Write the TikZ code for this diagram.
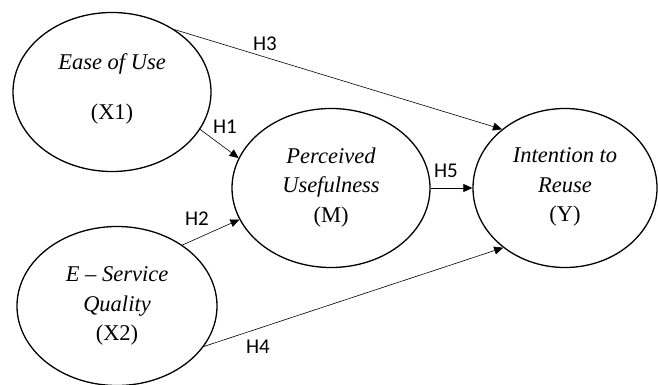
\documentclass[tikz,border=0pt]{standalone}
\usepackage{fontspec}
\setmainfont{Liberation Serif}
\newfontfamily\hlabelfont{Carlito}
\usetikzlibrary{arrows.meta, shapes.geometric, positioning}

\begin{document}
\begin{tikzpicture}[
        x=1pt, y=-1pt, >={Triangle[length=9pt,width=8pt]},
        construct/.style={ellipse, draw, line width=1.3pt, inner sep=0pt,
          minimum width=198pt, minimum height=159pt, align=center,
          font=\fontsize{22.5}{29.5}\selectfont},
        path/.style={->, line width=0.6pt},
        hyp/.style={font=\hlabelfont\fontsize{21}{21}\selectfont},
        ]
        \useasboundingbox (0,0) rectangle (658,385);
        \node[construct] (x1) at (112,92)  {\textit{Ease of Use}\\[20pt](X1)\\[-19pt]\mbox{}};
        \node[construct] (m)  at (331,188) {\textit{Perceived}\\\textit{Usefulness}\\(M)\\[-23pt]\mbox{}};
        \node[construct, minimum width=184pt] (y) at (565,188) {\textit{Intention to}\\\textit{Reuse}\\(Y)\\[-23pt]\mbox{}};
        \node[construct, minimum width=200pt] (x2) at (117,306) {\textit{E -- Service}\\\textit{Quality}\\(X2)};

        \draw[path] (x1.45)  -- (y.137);
        \draw[path] (x1.-23) -- (m.162);
        \draw[path] (x2.43)  -- (m.199);
        \draw[path] (x2.-25) -- (y.224);
        \draw[path] (m.east) -- (y.west);

        \node[hyp] (h3) at (265,44)  {H3};
        \node[hyp] (h1) at (225,127) {H1};
        \node[hyp] (h2) at (197,219) {H2};
        \node[hyp] (h4) at (258,347) {H4};
        \node[hyp] (h5) at (446,171) {H5};
      \end{tikzpicture}
\end{document}
